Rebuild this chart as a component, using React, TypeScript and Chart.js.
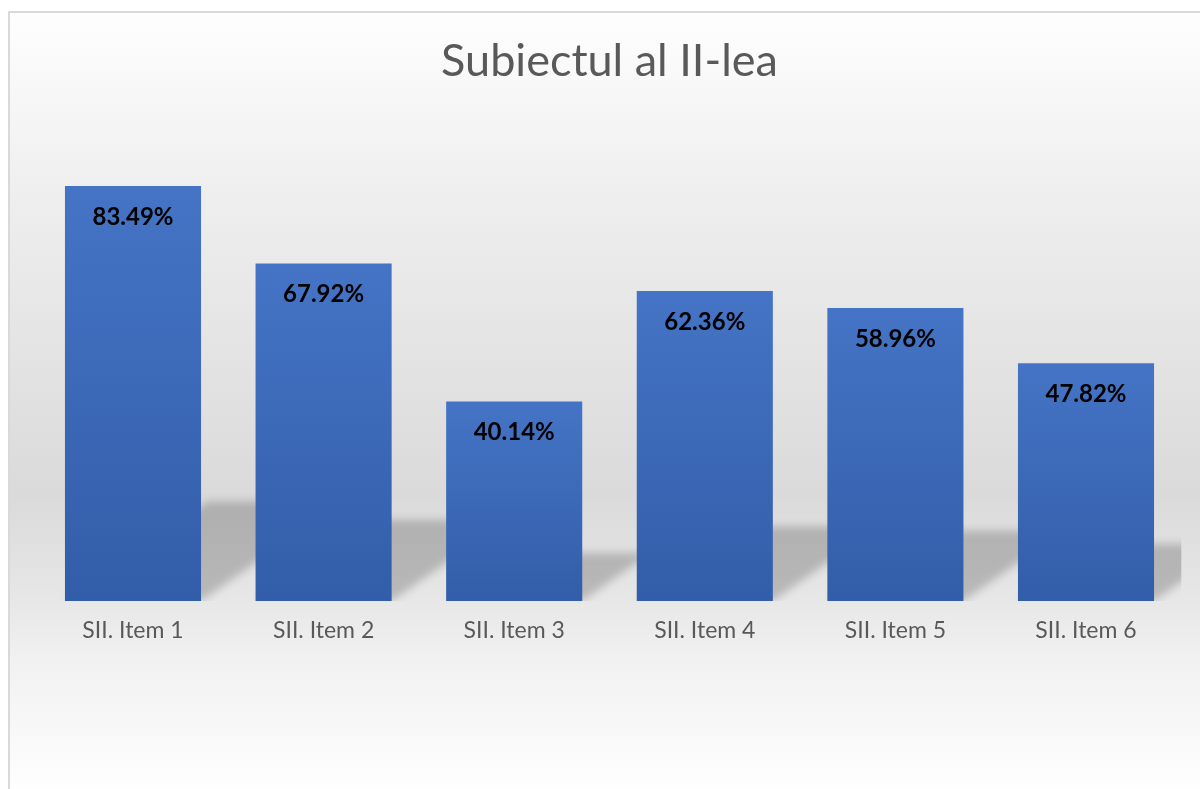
import React, { useEffect, useRef } from "react";
import { Chart, registerables } from "chart.js";

Chart.register(...registerables);

const TITLE = "Subiectul al II-lea";
const categories = ["SII. Item 1", "SII. Item 2", "SII. Item 3", "SII. Item 4", "SII. Item 5", "SII. Item 6"];
const values = [83.49, 67.92, 40.14, 62.36, 58.96, 47.82];
const Y_MIN = 0;
const Y_MAX = 100;

const FONT = "Lato";

const backgroundPlugin = {
  id: "bgGradient",
  beforeDraw(chart: any) {
    const { ctx, width, height } = chart;
    const off = 13;
    const g = ctx.createLinearGradient(0, 0, 0, height);
    const stop = (pageY: number, c: string) => {
      const t = Math.min(1, Math.max(0, (pageY - off) / height));
      g.addColorStop(t, c);
    };
    stop(13, "#fefefe");
    stop(200, "#eeeeee");
    stop(495, "#dadada");
    stop(600, "#e7e7e7");
    stop(660, "#f1f1f1");
    stop(789, "#fefefe");
    ctx.save();
    ctx.fillStyle = g;
    ctx.fillRect(0, 0, width, height);
    ctx.restore();
  },
};

const shadowPlugin = {
  id: "perspectiveShadow",
  beforeDatasetsDraw(chart: any) {
    const { ctx, chartArea } = chart;
    const meta = chart.getDatasetMeta(0);
    ctx.save();
    ctx.beginPath();
    ctx.rect(chartArea.left, chartArea.top, chartArea.right - chartArea.left, chartArea.bottom - chartArea.top);
    ctx.clip();
    ctx.filter = "blur(4px)";
    ctx.fillStyle = "rgba(0,0,0,0.2)";
    ctx.beginPath();
    meta.data.forEach((bar: any) => {
      const { x, y, base, width } = bar.getProps(["x", "y", "base", "width"], true);
      const H = base - y;
      const h = H * 0.24;
      const dx = h / 0.7;
      const l = x - width / 2;
      const r = x + width / 2;
      ctx.moveTo(l, base);
      ctx.lineTo(r, base);
      ctx.lineTo(r + dx, base - h);
      ctx.lineTo(l + dx, base - h);
      ctx.closePath();
    });
    ctx.fill();
    ctx.restore();
  },
};

const labelPlugin = {
  id: "barValueLabels",
  afterDatasetsDraw(chart: any) {
    const { ctx } = chart;
    const meta = chart.getDatasetMeta(0);
    ctx.save();
    ctx.font = `bold 24px ${FONT}`;
    ctx.fillStyle = "#000000";
    ctx.textAlign = "center";
    ctx.textBaseline = "middle";
    meta.data.forEach((bar: any, i: number) => {
      const { x, y } = bar.getProps(["x", "y"], true);
      ctx.fillText(values[i].toFixed(2) + "%", x, y + 31);
    });
    ctx.restore();
  },
};

export default function App() {
  const ref = useRef<HTMLCanvasElement | null>(null);

  useEffect(() => {
    if (!ref.current) return;
    Chart.defaults.font.family = FONT;
    const chart = new Chart(ref.current, {
      type: "bar",
      data: {
        labels: categories,
        datasets: [
          {
            data: values,
            backgroundColor: (c: any) => {
              const chart = c.chart;
              if (!chart.chartArea || c.raw === undefined) return "#4472c4";
              const ys = chart.scales.y;
              const top = ys.getPixelForValue(c.raw);
              const bottom = ys.getPixelForValue(0);
              const g = chart.ctx.createLinearGradient(0, top, 0, bottom);
              g.addColorStop(0, "#4574c6");
              g.addColorStop(1, "#325da8");
              return g;
            },
            borderWidth: 0,
            barPercentage: 0.714,
            categoryPercentage: 1,
          },
        ],
      },
      options: {
        responsive: false,
        animation: false,
        events: [],
        layout: { padding: { left: 27.7, right: 18.7, top: 8, bottom: 128.4 } },
        plugins: {
          legend: { display: false },
          tooltip: { enabled: false },
          title: {
            display: true,
            text: TITLE,
            color: "#595959",
            font: { family: FONT, size: 45, weight: "normal", lineHeight: 1.2 },
            padding: { top: 13, bottom: 16 },
          },
        },
        scales: {
          x: {
            grid: { display: false, drawTicks: false },
            border: { display: false },
            ticks: {
              color: "#595959",
              font: { family: FONT, size: 23, lineHeight: 1.2 },
              padding: 16,
            },
          },
          y: { display: false, min: Y_MIN, max: Y_MAX },
        },
      },
      plugins: [backgroundPlugin, shadowPlugin, labelPlugin],
    });
    return () => chart.destroy();
  }, []);

  return (
    <div
      style={{
        position: "fixed",
        left: 8,
        top: 11,
        width: 1190,
        height: 776,
        borderLeft: "2px solid #d9d9d9",
        borderTop: "2px solid #d9d9d9",
        overflow: "hidden",
      }}
    >
      <canvas ref={ref} width={1190} height={776} style={{ display: "block" }} />
    </div>
  );
}
